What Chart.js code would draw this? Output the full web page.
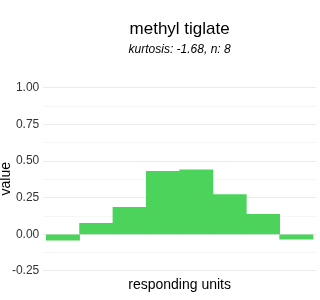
<!DOCTYPE html>
<html>
<head>
<meta charset="utf-8">
<script src="https://cdn.jsdelivr.net/npm/chart.js@4"></script>
<style>
  body { margin: 0; background: #fff; }
  #wrap { width: 320px; height: 300px; }
</style>
</head>
<body>
<div id="wrap"><canvas id="myChart"></canvas></div>
<script>
// histogram bins of the responding units
const categories = ["1", "2", "3", "4", "5", "6", "7", "8"];
const values = [-0.04, 0.075, 0.184, 0.43, 0.44, 0.272, 0.136, -0.034];
const tickLabels = [-0.25, 0, 0.25, 0.5, 0.75, 1];

const fontFam = "'Liberation Sans', Arial, sans-serif";

new Chart("myChart", {
  type: "bar",
  data: {
    datasets: [{
      data: categories.map((c, i) => ({ x: i, y: values[i] })),
      backgroundColor: "#4cd35c",
      borderWidth: 0,
      barPercentage: 1,
      categoryPercentage: 1
    }]
  },
  options: {
    responsive: true,
    maintainAspectRatio: false,
    animation: false,
    layout: { padding: { left: 0, right: 4, top: 7, bottom: 7.8 } },
    plugins: {
      legend: { display: false },
      tooltip: { enabled: false },
      title: {
        display: true,
        text: "methyl tiglate",
        fullSize: false,
        color: "#000",
        font: { family: fontFam, size: 17, weight: "normal" },
        padding: { top: 12, bottom: 2 }
      },
      subtitle: {
        display: true,
        text: "kurtosis: -1.68, n: 8",
        fullSize: false,
        color: "#000",
        font: { family: fontFam, size: 12, style: "italic" },
        padding: { top: 1.4, bottom: 22 }
      }
    },
    scales: {
      x: {
        type: "linear",
        offset: false,
        min: -0.59,
        max: 7.59,
        ticks: { display: false, stepSize: 1 },
        grid: { display: false, drawTicks: false },
        border: { display: false },
        title: {
          display: true,
          text: "responding units",
          color: "#000",
          font: { family: fontFam, size: 14, lineHeight: 1 },
          padding: { top: 0, bottom: 0 }
        }
      },
      y: {
        min: -0.3,
        max: 1.06,
        afterBuildTicks: (axis) => {
          const t = [];
          for (let v = -0.25; v <= 1.0001; v += 0.125) t.push({ value: Math.round(v * 1000) / 1000 });
          axis.ticks = t;
        },
        ticks: {
          color: "#333",
          padding: 4,
          font: { family: fontFam, size: 12 },
          callback: (v) => tickLabels.some(t => Math.abs(t - v) < 1e-6) ? v.toFixed(2) : ""
        },
        grid: {
          drawTicks: false,
          color: (ctx) => {
            const v = ctx.tick ? ctx.tick.value : 0;
            return tickLabels.some(t => Math.abs(t - v) < 1e-6) ? "#ebebeb" : "#f6f6f6";
          }
        },
        border: { display: false },
        title: {
          display: true,
          text: "value",
          color: "#000",
          font: { family: fontFam, size: 14, lineHeight: 0.85 },
          padding: { top: 0, bottom: -4 }
        }
      }
    }
  }
});
</script>
</body>
</html>
